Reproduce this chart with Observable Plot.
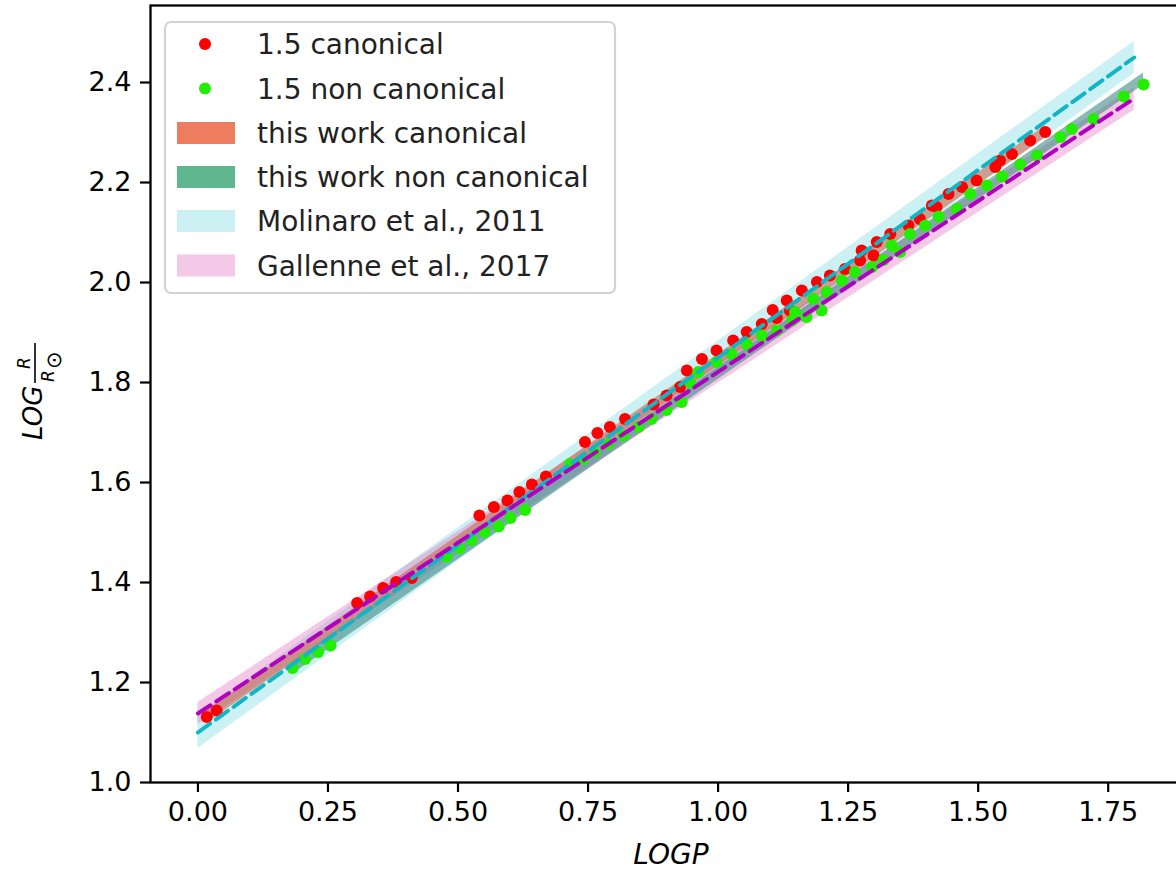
<!DOCTYPE html>
<html>
<head>
<meta charset="utf-8">
<script src="https://cdn.jsdelivr.net/npm/d3@7"></script>
<script src="https://cdn.jsdelivr.net/npm/@observablehq/plot@0.6"></script>
<style>
  html, body { margin: 0; padding: 0; background: white; overflow: hidden; }
  #chart { width: 1176px; height: 870px; overflow: hidden; }
  #chart svg { max-width: none !important; width: 1200px !important; height: 870px !important; }
</style>
</head>
<body>
<div id="chart"></div>
<script>
// ---- data ----
const xTicks = [0, 0.25, 0.5, 0.75, 1.0, 1.25, 1.5, 1.75];
const yTicks = [1.0, 1.2, 1.4, 1.6, 1.8, 2.0, 2.2, 2.4];

const canonX = [0.017,0.036,0.306,0.331,0.356,0.381,0.411,0.541,0.569,0.595,0.618,0.642,0.669,0.744,0.768,0.792,0.821,0.876,0.901,0.927,0.940,0.969,0.997,1.029,1.055,1.084,1.105,1.113,1.132,1.138,1.161,1.190,1.215,1.244,1.273,1.276,1.299,1.305,1.331,1.366,1.388,1.411,1.420,1.443,1.469,1.497,1.533,1.542,1.565,1.600,1.629];
const canonY = [1.131,1.144,1.359,1.372,1.389,1.401,1.409,1.534,1.551,1.564,1.581,1.596,1.612,1.681,1.699,1.711,1.727,1.756,1.774,1.791,1.824,1.847,1.864,1.884,1.901,1.917,1.945,1.929,1.964,1.944,1.984,2.001,2.014,2.027,2.044,2.064,2.054,2.081,2.097,2.114,2.127,2.154,2.151,2.177,2.191,2.204,2.231,2.244,2.257,2.284,2.301];

const nonX = [0.182,0.206,0.231,0.255,0.478,0.503,0.526,0.551,0.578,0.601,0.629,0.715,0.741,0.763,0.789,0.818,0.847,0.872,0.901,0.930,0.946,0.962,0.997,1.026,1.055,1.084,1.113,1.142,1.148,1.170,1.183,1.199,1.209,1.238,1.263,1.296,1.318,1.334,1.350,1.369,1.398,1.424,1.459,1.485,1.517,1.546,1.581,1.613,1.658,1.680,1.722,1.780,1.818];
const nonY = [1.229,1.247,1.261,1.274,1.452,1.469,1.485,1.501,1.512,1.529,1.545,1.637,1.647,1.661,1.677,1.694,1.711,1.727,1.745,1.761,1.800,1.821,1.841,1.857,1.877,1.894,1.904,1.924,1.941,1.931,1.967,1.944,1.981,2.004,2.021,2.031,2.045,2.074,2.061,2.097,2.114,2.132,2.147,2.177,2.194,2.212,2.236,2.254,2.291,2.307,2.327,2.372,2.396];

// relation bands (end points) and central lines
const molinaroX = [0, 1.8];
const molinaroLo = [1.068, 2.418];
const molinaroHi = [1.135, 2.482];
const molinaroMid = [1.100, 2.450];

const gallenneX = [0, 1.8];
const gallenneLo = [1.116, 2.345];
const gallenneHi = [1.160, 2.390];
const gallenneMid = [1.138, 2.368];

const canonFitX = [0.017, 1.629];
const canonFitLo = [1.119, 2.289];
const canonFitHi = [1.143, 2.313];

const nonFitX = [0.182, 1.818];
const nonFitLo = [1.217, 2.395];
const nonFitHi = [1.241, 2.419];

const legendLabels = ["1.5 canonical", "1.5 non canonical", "this work canonical", "this work non canonical", "Molinaro et al., 2011", "Gallenne et al., 2017"];

// ---- tables ----
const pts = (xs, ys) => xs.map((x, i) => ({x, y: ys[i]}));
const band = (xs, lo, hi) => xs.map((x, i) => ({x, lo: lo[i], hi: hi[i]}));

const C = {
  red: "#ff0000", green: "#22ee00",
  canon: "#e8502a", non: "#2a9f6a",
  canonBand: "#c8684e", nonBand: "#3f8a84",
  mol: "#17becf", gal: "#e377c2",
  molLine: "#12b5c6", galLine: "#b000c0"
};

const plot = Plot.plot({
  width: 1200, height: 870,
  marginLeft: 150, marginRight: 7, marginTop: 5, marginBottom: 88,
  x: {domain: [-0.0912, 1.914]},
  y: {domain: [1.0, 2.554]},
  style: {fontFamily: "DejaVu Sans", fontSize: "27px", color: "black", background: "white", overflow: "visible"},
  marks: [
    Plot.areaY(band(molinaroX, molinaroLo, molinaroHi), {x: "x", y1: "lo", y2: "hi", fill: C.mol, fillOpacity: 0.22}),
    Plot.areaY(band(gallenneX, gallenneLo, gallenneHi), {x: "x", y1: "lo", y2: "hi", fill: C.gal, fillOpacity: 0.4}),
    Plot.areaY(band(canonFitX, canonFitLo, canonFitHi), {x: "x", y1: "lo", y2: "hi", fill: C.canonBand, fillOpacity: 0.6}),
    Plot.areaY(band(nonFitX, nonFitLo, nonFitHi), {x: "x", y1: "lo", y2: "hi", fill: C.nonBand, fillOpacity: 0.6}),
    Plot.dot(pts(canonX, canonY), {x: "x", y: "y", r: 6, fill: C.red}),
    Plot.dot(pts(nonX, nonY), {x: "x", y: "y", r: 6, fill: C.green}),
    Plot.line(pts(molinaroX, molinaroMid), {x: "x", y: "y", stroke: C.molLine, strokeWidth: 4, strokeDasharray: "15,7"}),
    Plot.line(pts(gallenneX, gallenneMid), {x: "x", y: "y", stroke: C.galLine, strokeWidth: 4, strokeDasharray: "15,7"}),
    Plot.axisX({ticks: xTicks, tickFormat: d3.format(".2f"), tickSize: 10, tickPadding: 9, label: null, strokeWidth: 2.2}),
    Plot.axisY({ticks: yTicks, tickFormat: d3.format(".1f"), tickSize: 10, tickPadding: 9, label: null, strokeWidth: 2.2}),
    Plot.frame({stroke: "black", strokeWidth: 2.3})
  ]
});

document.getElementById("chart").appendChild(plot);

const svg = d3.select(plot);

// x label
svg.append("text")
  .attr("x", 671).attr("y", 864)
  .attr("text-anchor", "middle")
  .attr("font-style", "italic")
  .attr("font-size", 28)
  .attr("fill", "black")
  .text("LOGP");

// y label: LOG R / R_sun
const yl = svg.append("g").attr("transform", "translate(42,440) rotate(-90)").attr("fill", "black").attr("text-anchor", "start");
yl.append("text").attr("x", 0).attr("y", 0).attr("font-size", 26).attr("font-style", "italic").text("LOG");
yl.append("line").attr("x1", 57).attr("x2", 97).attr("y1", -7).attr("y2", -7).attr("stroke", "black").attr("stroke-width", 1.6);
yl.append("text").attr("x", 77).attr("y", -12).attr("text-anchor", "middle").attr("font-size", 17).attr("font-style", "italic").text("R");
yl.append("text").attr("x", 58).attr("y", 12).attr("font-size", 17).attr("font-style", "italic").text("R");
yl.append("text").attr("x", 71).attr("y", 19).attr("font-size", 21).text("\u2299");

// legend
const lg = svg.append("g").attr("text-anchor", "start");
lg.append("rect").attr("x", 165).attr("y", 22).attr("width", 450).attr("height", 271)
  .attr("rx", 6).attr("fill", "white").attr("fill-opacity", 0.8)
  .attr("stroke", "#d3d3d3").attr("stroke-width", 2.2);
const rowY = [44, 88.5, 133, 177, 221, 265.5];
lg.append("circle").attr("cx", 205).attr("cy", rowY[0]).attr("r", 6).attr("fill", C.red);
lg.append("circle").attr("cx", 205).attr("cy", rowY[1]).attr("r", 6).attr("fill", C.green);
const patchFills = [[C.canon, 0.75], [C.non, 0.75], [C.mol, 0.22], [C.gal, 0.4]];
patchFills.forEach(([f, o], i) => {
  lg.append("rect").attr("x", 177).attr("y", rowY[i + 2] - 11).attr("width", 58).attr("height", 22)
    .attr("fill", f).attr("fill-opacity", o);
});
legendLabels.forEach((t, i) => {
  lg.append("text").attr("x", 257).attr("y", rowY[i] + 10).attr("font-size", 28).attr("fill", "#222").text(t);
});
</script>
</body>
</html>
